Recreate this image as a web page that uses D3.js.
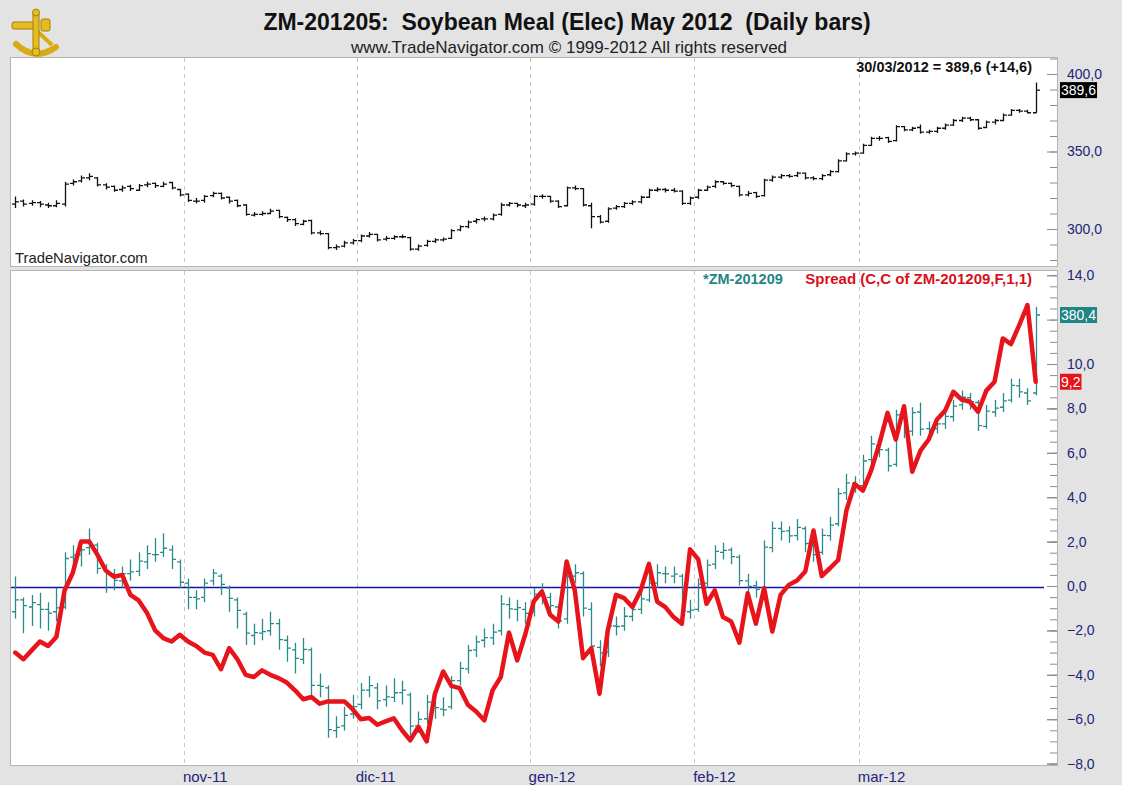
<!DOCTYPE html>
<html>
<head>
<meta charset="utf-8">
<script src="https://cdn.jsdelivr.net/npm/d3@7"></script>
<style>
  body { margin: 0; background: #e3e3e3; }
  svg { display: block; font-family: "Liberation Sans", Arial, sans-serif; }
</style>
</head>
<body>
<svg id="chart" width="1122" height="785"></svg>
<script>
/*
 *  Data
 */
// month labels and the bar index of the first session of each month
var monthLabels = ["nov-11", "dic-11", "gen-12", "feb-12", "mar-12"];
var monthStart = [21, 42, 63, 83, 103];

// ZM-201205 daily bars: [open, high, low, close]
var mayBars = [
  [316,321,313.5,317.5],[318,319,314.5,316],[316.5,318.5,315,317],[317,318,314,316],[315.5,317,313.5,315],
  [315,318.5,314,316.5],[316,330.5,314.5,329],[329.5,332,328,330.5],[331,334.5,330,333],[333,336,331.5,334],
  [333,333.5,327.5,328.5],[328.5,329.5,325.5,327],[327.5,328,324,325],[325.5,328,324,326.5],[327.5,328.5,324.5,326],
  [325,329,324.5,328],[328.5,330.5,327,329],[329.5,330,326.5,328],[327.5,330.5,327,329],[330,330.5,325.5,326.5],
  [325.5,326,321,322],[322.5,323,317.5,318.5],[318,320,316.5,318],[318.5,322,317,321],[321.5,324,320.5,323],
  [323,323.5,319,320],[320.5,321,316.5,318],[318.5,319,314,315],[315.5,316,308.5,309.5],[309,311,308,309.5],
  [309.5,311.5,308.5,310],[310,313,309.5,311.5],[312,312.5,307,308],[307.5,308,304.5,306],[306,307,302,303.5],
  [303,306,302.5,305],[305.5,306,296.5,297.5],[297.5,299,296,297],[297,297.5,287,288],[288,290,286.5,288.5],
  [289,292.5,288,291],[291,293.5,290,292.5],[292.5,296.5,291.5,295.5],[295.5,298,294.5,296.5],[296.5,297,292,293],
  [293.5,295.5,292.5,294],[294,296,293,295],[295,296.5,294,295],[294.5,295,286,287],[287,290,286,289],
  [289.5,293,288.5,292],[292,294,291,293],[293,294.5,292,293.5],[294,300,293.5,299],[299.5,302.5,298.5,301.5],
  [301.5,305.5,300.5,304.5],[305,307,303.5,306],[306.5,308,305,306.5],[306.5,310,305.5,309],[309.5,317,308.5,315.5],
  [315.5,317.5,314.5,316.5],[316.5,317,314,315.5],[315,317,313.5,315.5],[316,322,315,321],[321,322.5,319.5,321],
  [321,321.5,317,318],[318,318.5,313.5,314.5],[315,327.5,314.5,326.5],[326.5,328,325,326],[326,326.5,314.5,315.5],
  [315,317,300.5,308],[308,309,303.5,304.5],[305,314,304,313],[313.5,315.5,312.5,314.5],[314.5,317.5,313.5,316.5],
  [316.5,318.5,315.5,317.5],[317.5,321.5,316.5,320.5],[320.5,326,320,325],[325,327,324,325.5],[325.5,326.5,323.5,325],
  [325,326.5,323.5,324.5],[324.5,325,315.5,316.5],[316.5,321,315.5,320],[320.5,326,319.5,325],[325,328,324.5,327],
  [327.5,331.5,326.5,330.5],[330.5,331,328.5,329.5],[329.5,330,327,328],[327.5,328,321,322],[322,324.5,321,323],
  [323.5,324,320,321],[321.5,332.5,321,331.5],[331.5,334.5,330.5,333.5],[333.5,335.5,332.5,334.5],[334.5,335.5,333,334],
  [334.5,337,333.5,336],[336,336.5,332,333],[333,334,331.5,332.5],[332.5,335.5,331.5,334.5],[335,338,334,337],
  [337,345,336.5,344],[344,349.5,343.5,348.5],[348.5,350,347.5,349],[349,355,348.5,354],[354,359.5,353.5,358.5],
  [358.5,360,357,358.5],[359,359.5,355.5,356.5],[357,367,356.5,366],[366,366.5,363,364],[364,366,363,365],
  [365.5,367.5,361.5,362.5],[362.5,364,361.5,363],[363,366,362,365],[365,368,364,367],[367,371,366.5,370],
  [370,372.5,369,371.5],[371.5,372.5,369.5,370.5],[370.5,371,364,365],[365.5,370,365,369],[369,371,367.5,370],
  [370,374.5,369.5,373.5],[373.5,377.5,373,376.5],[376.5,377.5,375,376],[376,377,374.5,375],[375,394.5,375,389.6]
];

// ZM-201209 daily bars: [open, high, low, close]
var sepBars = [
  [318,325.4,316.6,320.5],[320.5,321,313.5,319.3],[319,321.5,315,319.9],[319.5,322,314.5,318.5],[318.5,320,314,317.7],
  [318,323,316,318.8],[319,330.5,318.5,329.2],[329.5,332,327.5,329.9],[330,333,327.5,331],[331.5,335.5,330,332],
  [332,332.5,326,327.1],[327,328,322,326.3],[326,327,322.5,324.6],[324.5,327.5,323,326],[326,329,324.5,326.4],
  [326.5,330.5,325.5,328.65],[328.5,332,327,330.2],[330,333.5,328.5,330],[330.5,334.5,329.5,331.35],[331,332,327,329],
  [328.5,329,323,324.2],[324,325,318.5,321],[321,322.5,318.5,320.7],[321,325,320,324],[324.5,327,323.5,326.1],
  [325.5,326,321.5,323.75],[323,323.5,318,320.8],[320.5,321,314.5,318.3],[317.5,318,311,313.5],[313,315.5,311,313.6],
  [313.5,316.5,312,313.8],[314,318,313,315.5],[315.5,316.5,310,312.15],[312,313,307.5,310.35],[310,311.5,305,308.2],
  [308,312.5,307,310.1],[310,310.5,300.5,302.5],[302.5,305,300,302.3],[302,302.5,291.5,293.2],[293,296,291.5,293.7],
  [294,298,293,296.2],[296.5,300.5,295.5,298.05],[298.5,303,297.5,301.5],[301.5,304.5,300,302.45],[302,303,297.5,299.25],
  [299.5,302.5,298,300.1],[300,304,299,300.96],[301,303.5,298.5,301.5],[300.5,301,292,293.95],[294,297,292.5,295.35],
  [295.5,300.5,294.5,299],[299,300.5,295.5,297.85],[297.5,300,296,297.35],[298,304.5,297.5,303.5],[303.5,307.5,302.5,306.1],
  [306,311,305,309.85],[310,313,308.5,311.65],[312,314.5,310.5,312.55],[312.5,315.5,311,313.7],[314,321.5,313,319.6],
  [319.5,321,316.5,318.6],[318.5,320.5,316,318.85],[318.5,320,315.5,317.65],[318,323,317,321.7],[321.5,324,319.5,321.25],
  [321,322,317.5,319.3],[319,319.5,314.5,316.1],[316.5,327,315.5,325.4],[325.5,328,324,326.2],[326,326.5,317,318.75],
  [318.5,320,308.5,310.8],[310.5,312,306.5,309.35],[309.5,316,308.5,315],[315,317,313,314.9],[315,319,314,317.05],
  [317,320,316,318.45],[318.5,322,317.5,320.7],[320.5,325.5,320,324],[324,328,323,326.2],[326,327.5,324,325.95],
  [325.5,327.5,324,325.9],[325.5,326,317,318.2],[318,320.5,316.5,318.35],[318.5,325,318,323.8],[324,329,323,327.8],
  [328,332,327,330.7],[330.5,332.5,329,330.9],[331,331.5,328,329.6],[329.5,330,323.5,324.55],[324.5,326,322,323.33],
  [323.5,324.5,321,322.7],[323,333,322.5,331.6],[331.5,337,330.5,335.55],[335.5,337,333,334.9],[335,336,332.5,333.95],
  [334,337.5,333,335.75],[335.5,336,330.5,332.35],[332,333,328.5,330],[330.5,335.5,330,334.05],[334,338,333,336.2],
  [336.5,344,336,342.83],[343,347,341.5,345.1],[345,346.5,343,344.4],[344.5,351,344,349.7],[350,355,349,353.3],
  [353,354.5,350.5,352.1],[352,352.5,347.5,348.7],[349,360.5,348.5,359.4],[359,360,354.5,355.9],[356,361,355,359.85],
  [360,362,355,356.4],[356.5,358,355,356.4],[356.5,359,355.5,357.5],[357.5,360.5,356.5,359.1],[359,362.5,358,361.25],
  [361.5,364.5,360.5,363.1],[363,364,360.5,362.2],[362,362.5,356,357.15],[357,361.5,356.5,360.2],[360,362.5,359,360.8],
  [361,364,360,362.35],[362.5,367,362,365.6],[365.5,367,363,364.25],[364,365,361.5,362.35],[364,382.1,363.5,380.4]
];

// Spread (C,C of ZM-201209,F,1,1)
var spread = [
  -3.0,-3.3,-2.9,-2.5,-2.7,-2.3,-0.2,0.6,2.0,2.0,
  1.4,0.7,0.42,0.5,-0.4,-0.65,-1.2,-2.0,-2.35,-2.5,
  -2.2,-2.5,-2.7,-3.0,-3.1,-3.75,-2.8,-3.3,-4.0,-4.1,
  -3.8,-4.0,-4.15,-4.35,-4.7,-5.1,-5.0,-5.3,-5.2,-5.2,
  -5.2,-5.55,-6.0,-5.95,-6.25,-6.1,-5.96,-6.5,-6.95,-6.35,
  -7.0,-4.85,-3.85,-4.5,-4.6,-5.35,-5.65,-6.05,-4.7,-4.1,
  -2.1,-3.35,-2.15,-0.7,-0.25,-1.3,-1.6,1.1,-0.2,-3.25,
  -2.8,-4.85,-2.0,-0.4,-0.55,-0.95,-0.2,1.0,-0.7,-0.95,
  -1.4,-1.7,1.65,1.2,-0.8,-0.2,-1.4,-1.6,-2.55,-0.33,
  -1.7,-0.1,-2.05,-0.4,0.05,0.25,0.65,2.5,0.45,0.8,
  1.17,3.4,4.6,4.3,5.2,6.4,7.8,6.6,8.1,5.15,
  6.1,6.6,7.5,7.9,8.75,8.4,8.3,7.85,8.8,9.2,
  11.15,10.9,11.75,12.65,9.2
];

// axis ticks (the 12,0 label sits under the 380,4 tag, so it is not printed)
var mayTicks = [300, 350, 400];
var spreadMajor = [-8, -6, -4, -2, 0, 2, 4, 6, 8, 10, 12, 14];
var spreadLabels = [-8, -6, -4, -2, 0, 2, 4, 6, 8, 10, 14];

/*
 *  Setup
 */
var svg = d3.select("#chart");
var fmt = d3.formatLocale({decimal: ",", thousands: ".", grouping: [3], currency: ["", ""]}).format(".1f");

var navy = "#24247a",
    teal = "#2a8a8a",
    red = "#e8141c";

var panelTop = {x: 10, y: 57, w: 1047, h: 209},
    panelBot = {x: 10, y: 270, w: 1047, h: 495};

var x = d3.scaleLinear().domain([0, mayBars.length - 1]).range([15.2, 1035.7]);
var yMay = d3.scaleLinear().domain([300, 400]).range([229, 74]);
var ySpread = d3.scaleLinear().domain([-8, 14]).range([763.6, 275.2]);
var ySep = d3.scaleLinear().domain([292.5, 380.4]).range([733, 315]);

// panels
[panelTop, panelBot].forEach(function(p) {
  svg.append("rect")
    .attr("x", p.x + 0.5).attr("y", p.y + 0.5)
    .attr("width", p.w).attr("height", p.h)
    .style("fill", "#fff")
    .style("stroke", "#b4b4b4");
});

// month gridlines
[panelTop, panelBot].forEach(function(p) {
  svg.append("g").selectAll("line")
    .data(monthStart)
    .enter().append("line")
      .attr("x1", function(d) { return Math.round(x(d - 0.5)) + 0.5; })
      .attr("x2", function(d) { return Math.round(x(d - 0.5)) + 0.5; })
      .attr("y1", p.y + 1)
      .attr("y2", p.y + p.h)
      .style("stroke", "#c4c4c4")
      .style("stroke-dasharray", "4,4");
});

/*
 *  Right axes
 */
function styleAxis(g, color) {
  g.select(".domain").remove();
  g.selectAll(".tick line").style("stroke", "#8c8c8c");
  g.selectAll(".tick text")
    .style("fill", color)
    .style("font-size", "14px")
    .style("font-family", "'Liberation Sans', Arial, sans-serif");
}

svg.append("g")
  .attr("transform", "translate(1047,0)")
  .call(d3.axisRight(yMay).tickValues(d3.range(280, 411, 10)).tickSize(10).tickFormat(""))
  .call(styleAxis, navy)
  .selectAll(".tick line").attr("x1", 3);

svg.append("g")
  .attr("transform", "translate(1047,0)")
  .call(d3.axisRight(yMay).tickValues(mayTicks).tickSize(10).tickPadding(10).tickFormat(fmt))
  .call(styleAxis, navy);

svg.append("g")
  .attr("transform", "translate(1047,0)")
  .call(d3.axisRight(ySpread).tickValues(d3.range(-8, 14.01, 0.5)).tickSize(10).tickFormat(""))
  .call(styleAxis, navy)
  .selectAll(".tick line").attr("x1", 3);

svg.append("g")
  .attr("transform", "translate(1047,0)")
  .call(d3.axisRight(ySpread).tickValues(spreadMajor).tickSize(10).tickFormat(""))
  .call(styleAxis, navy);

svg.append("g")
  .attr("transform", "translate(1047,0)")
  .call(d3.axisRight(ySpread).tickValues(spreadLabels).tickSize(10).tickPadding(10).tickFormat(fmt))
  .call(styleAxis, navy);

// month labels
svg.append("g").selectAll("text")
  .data(monthStart)
  .enter().append("text")
    .attr("x", function(d) { return x(d - 0.5) - 1; })
    .attr("y", 782)
    .style("font-size", "15px")
    .style("fill", navy)
    .text(function(d, i) { return monthLabels[i]; });

/*
 *  Bars and line
 */
function drawBars(g, data, y, color) {
  g.selectAll("path")
    .data(data)
    .enter().append("path")
      .attr("d", function(d, i) {
        var cx = Math.round(x(i)) + 0.5;
        return "M" + cx + "," + y(d[1]) + "V" + y(d[2]) +
               "M" + (cx - 3.5) + "," + y(d[0]) + "H" + cx +
               "M" + cx + "," + y(d[3]) + "H" + (cx + 3.5);
      })
      .style("stroke", color)
      .style("stroke-width", 1.3)
      .style("fill", "none");
}

drawBars(svg.append("g"), mayBars, yMay, "#111");

// zero line of the spread
svg.append("line")
  .attr("x1", panelBot.x + 1).attr("x2", 1044)
  .attr("y1", ySpread(0) + 1.5).attr("y2", ySpread(0) + 1.5)
  .style("stroke", "#1414a0")
  .style("stroke-width", 1.6);

drawBars(svg.append("g"), sepBars, ySep, teal);

var line = d3.line()
  .x(function(d, i) { return x(i); })
  .y(function(d) { return ySpread(d); });

svg.append("path")
  .datum(spread)
  .attr("d", line)
  .style("fill", "none")
  .style("stroke", red)
  .style("stroke-width", 4.5)
  .style("stroke-linejoin", "round")
  .style("stroke-linecap", "round");

/*
 *  Last-value tags
 */
function tag(y, txt, fill) {
  var t = svg.append("text")
    .attr("x", 1061).attr("y", y + 5)
    .style("font-size", "14px")
    .style("fill", "#fff")
    .text(txt);
  var w = t.node().getComputedTextLength();
  svg.insert("rect", function() { return t.node(); })
    .attr("x", 1060).attr("y", y - 8)
    .attr("width", w + 2).attr("height", 16)
    .style("fill", fill);
}
var lastMay = mayBars[mayBars.length - 1][3],
    lastSep = sepBars[sepBars.length - 1][3],
    lastSpread = spread[spread.length - 1];
tag(yMay(lastMay), fmt(lastMay), "#000");
tag(ySep(lastSep), fmt(lastSep), "#1f8585");
tag(ySpread(lastSpread), fmt(lastSpread), "#e8141c");

/*
 *  Texts
 */
svg.append("text")
  .attr("x", 567).attr("y", 30)
  .attr("text-anchor", "middle")
  .style("font-size", "23px")
  .style("font-weight", "bold")
  .style("fill", "#111")
  .style("white-space", "pre")
  .text("ZM-201205:  Soybean Meal (Elec) May 2012  (Daily bars)");

svg.append("text")
  .attr("x", 569).attr("y", 53)
  .attr("text-anchor", "middle")
  .style("font-size", "17px")
  .style("fill", "#222")
  .text("www.TradeNavigator.com \u00a9 1999-2012 All rights reserved");

var prevClose = mayBars[mayBars.length - 2][3];
svg.append("text")
  .attr("x", 1032).attr("y", 72)
  .attr("text-anchor", "end")
  .style("font-size", "14.5px")
  .style("font-weight", "bold")
  .style("fill", "#111")
  .text("30/03/2012 = " + fmt(lastMay) + " (+" + fmt(lastMay - prevClose) + ")");

svg.append("text")
  .attr("x", 15).attr("y", 263)
  .style("font-size", "14.8px")
  .style("fill", "#222")
  .text("TradeNavigator.com");

svg.append("text")
  .attr("x", 1032).attr("y", 284)
  .attr("text-anchor", "end")
  .style("font-size", "15px")
  .style("font-weight", "bold")
  .style("fill", "#d8101a")
  .text("Spread (C,C of ZM-201209,F,1,1)");

svg.append("text")
  .attr("x", 703).attr("y", 284)
  .style("font-size", "14.5px")
  .style("font-weight", "bold")
  .style("fill", "#1f8585")
  .text("*ZM-201209");

/*
 *  Logo (sextant)
 */
var logo = svg.append("g")
  .attr("transform", "translate(10,8)")
  .style("fill", "#e6bc1e")
  .style("stroke", "#a47e0a")
  .style("stroke-width", 1);
logo.append("path")
  .attr("d", "M6,36 Q25,54 46,39")
  .style("fill", "none")
  .style("stroke", "#d8aa14")
  .style("stroke-width", 6)
  .style("stroke-linecap", "round");
logo.append("path")
  .attr("d", "M26,22 L42,37")
  .style("fill", "none")
  .style("stroke", "#d8aa14")
  .style("stroke-width", 4);
logo.append("rect").attr("x", 2).attr("y", 14).attr("width", 22).attr("height", 7).attr("rx", 2);
logo.append("rect").attr("x", 23).attr("y", 4).attr("width", 6).attr("height", 38).attr("rx", 1);
logo.append("circle").attr("cx", 26).attr("cy", 4.5).attr("r", 3.5);
logo.append("rect").attr("x", 31).attr("y", 11).attr("width", 9).attr("height", 12).attr("rx", 2);
logo.append("circle").attr("cx", 26).attr("cy", 44).attr("r", 4);
</script>
</body>
</html>
